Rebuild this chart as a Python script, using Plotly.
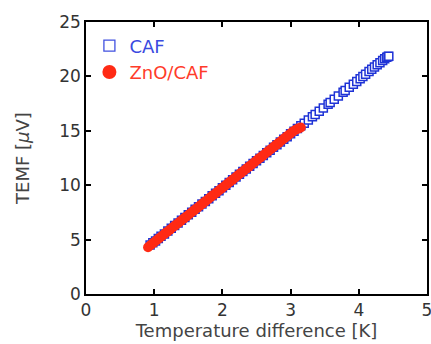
import plotly.graph_objects as go

caf_x = [0.94, 0.98, 1.02, 1.06, 1.10, 1.15, 1.20, 1.25, 1.30, 1.35, 1.40, 1.45, 1.50, 1.55,
         1.60, 1.65, 1.70, 1.75, 1.80, 1.85, 1.90, 1.95, 2.00, 2.05, 2.10, 2.15, 2.20, 2.25,
         2.30, 2.35, 2.40, 2.45, 2.50, 2.55, 2.60, 2.65, 2.70, 2.75, 2.80, 2.85, 2.90, 2.95,
         3.00, 3.05, 3.10, 3.15, 3.20, 3.26, 3.32, 3.36, 3.42, 3.48, 3.55, 3.58, 3.64, 3.70,
         3.77, 3.80, 3.86, 3.92, 3.97, 4.02, 4.06, 4.10, 4.15, 4.19, 4.23, 4.27, 4.31, 4.35,
         4.38, 4.41, 4.43, 4.44]
caf_y = [4.50, 4.70, 4.88, 5.10, 5.30, 5.52, 5.78, 6.05, 6.30, 6.52, 6.78, 7.02, 7.28, 7.52,
         7.78, 8.02, 8.27, 8.50, 8.76, 9.02, 9.25, 9.50, 9.76, 10.00, 10.25, 10.50, 10.76, 11.00,
         11.25, 11.50, 11.74, 12.00, 12.24, 12.48, 12.74, 12.98, 13.22, 13.48, 13.72, 13.98, 14.22, 14.46,
         14.72, 14.96, 15.22, 15.46, 15.70, 16.00, 16.30, 16.50, 16.80, 17.10, 17.44, 17.60, 17.90, 18.20,
         18.55, 18.70, 19.00, 19.28, 19.54, 19.78, 20.00, 20.20, 20.44, 20.66, 20.86, 21.06, 21.26, 21.46,
         21.62, 21.76, 21.84, 21.86]

zno_x = [0.91, 0.95, 0.99, 1.03, 1.07, 1.11, 1.15, 1.19, 1.23, 1.27, 1.31, 1.35, 1.39, 1.43,
         1.47, 1.51, 1.55, 1.59, 1.63, 1.67, 1.71, 1.75, 1.79, 1.83, 1.87, 1.91, 1.95, 1.99,
         2.03, 2.07, 2.11, 2.15, 2.19, 2.23, 2.27, 2.31, 2.35, 2.39, 2.43, 2.47, 2.51, 2.55,
         2.59, 2.63, 2.67, 2.71, 2.75, 2.79, 2.83, 2.87, 2.91, 2.95, 2.99, 3.03, 3.07, 3.11, 3.15]
zno_y = [4.30, 4.50, 4.71, 4.91, 5.11, 5.31, 5.51, 5.71, 5.91, 6.11, 6.31, 6.51, 6.71, 6.91,
         7.11, 7.31, 7.51, 7.71, 7.91, 8.11, 8.31, 8.51, 8.71, 8.91, 9.11, 9.31, 9.51, 9.71,
         9.91, 10.11, 10.31, 10.51, 10.71, 10.91, 11.11, 11.31, 11.51, 11.71, 11.91, 12.11, 12.31, 12.51,
         12.71, 12.91, 13.11, 13.31, 13.51, 13.71, 13.91, 14.11, 14.31, 14.51, 14.71, 14.91, 15.08, 15.20, 15.30]

x_ticks = [0, 1, 2, 3, 4, 5]
y_ticks = [0, 5, 10, 15, 20, 25]

BLUE = "#1f33d6"
RED = "#ff2a14"
FONT = "DejaVu Sans"

fig = go.Figure()
fig.add_trace(go.Scatter(
    x=caf_x, y=caf_y, mode="markers", showlegend=False,
    marker=dict(symbol="square", size=8, color="white", line=dict(color=BLUE, width=1.5)),
))
fig.add_trace(go.Scatter(
    x=zno_x, y=zno_y, mode="markers", showlegend=False,
    marker=dict(symbol="circle", size=10, color=RED, line=dict(width=0)),
))
# legend entries (larger legend symbols, as in the reference)
fig.add_trace(go.Scatter(
    x=[None], y=[None], mode="markers",
    name="<span style='color:#3a4ae0'>CAF</span>", legendgroup="a",
    marker=dict(symbol="square", size=11, color="white", line=dict(color="#4050e0", width=1.3)),
))
fig.add_trace(go.Scatter(
    x=[None], y=[None], mode="markers",
    name="<span style='color:#ff3b2a'>ZnO/CAF</span>", legendgroup="b",
    marker=dict(symbol="circle", size=14, color=RED, line=dict(width=0)),
))

axis_common = dict(
    showgrid=False, zeroline=False, showline=True, linecolor="black", linewidth=1.5,
    mirror="ticks", ticks="inside", ticklen=5, tickwidth=1.5, tickcolor="black",
    tickfont=dict(family=FONT, size=17, color="#333333"), automargin=False,
    ticklabeloverflow="allow",
)

fig.update_layout(
    width=431, height=344,
    margin=dict(l=86, r=4, t=22, b=50),
    plot_bgcolor="white", paper_bgcolor="white",
    font=dict(family=FONT),
    xaxis=dict(range=[0, 5], tickvals=x_ticks,
               title=dict(text="Temperature difference [K]", standoff=1,
                          font=dict(family=FONT, size=18, color="#444444")),
               **axis_common),
    yaxis=dict(range=[0, 25], tickvals=y_ticks,
               title=dict(text="TEMF [<i>μ</i>V]", standoff=25,
                          font=dict(family=FONT, size=18, color="#444444")),
               **axis_common),
    legend=dict(x=0.01, y=0.98, xanchor="left", yanchor="top",
                bgcolor="rgba(0,0,0,0)", font=dict(family=FONT, size=18),
                tracegroupgap=0, itemsizing="trace", itemwidth=30),
    showlegend=True,
)

fig.write_html("out.html", config={"displayModeBar": False},
               post_script="document.body.style.margin='0';document.body.style.overflow='hidden';")
